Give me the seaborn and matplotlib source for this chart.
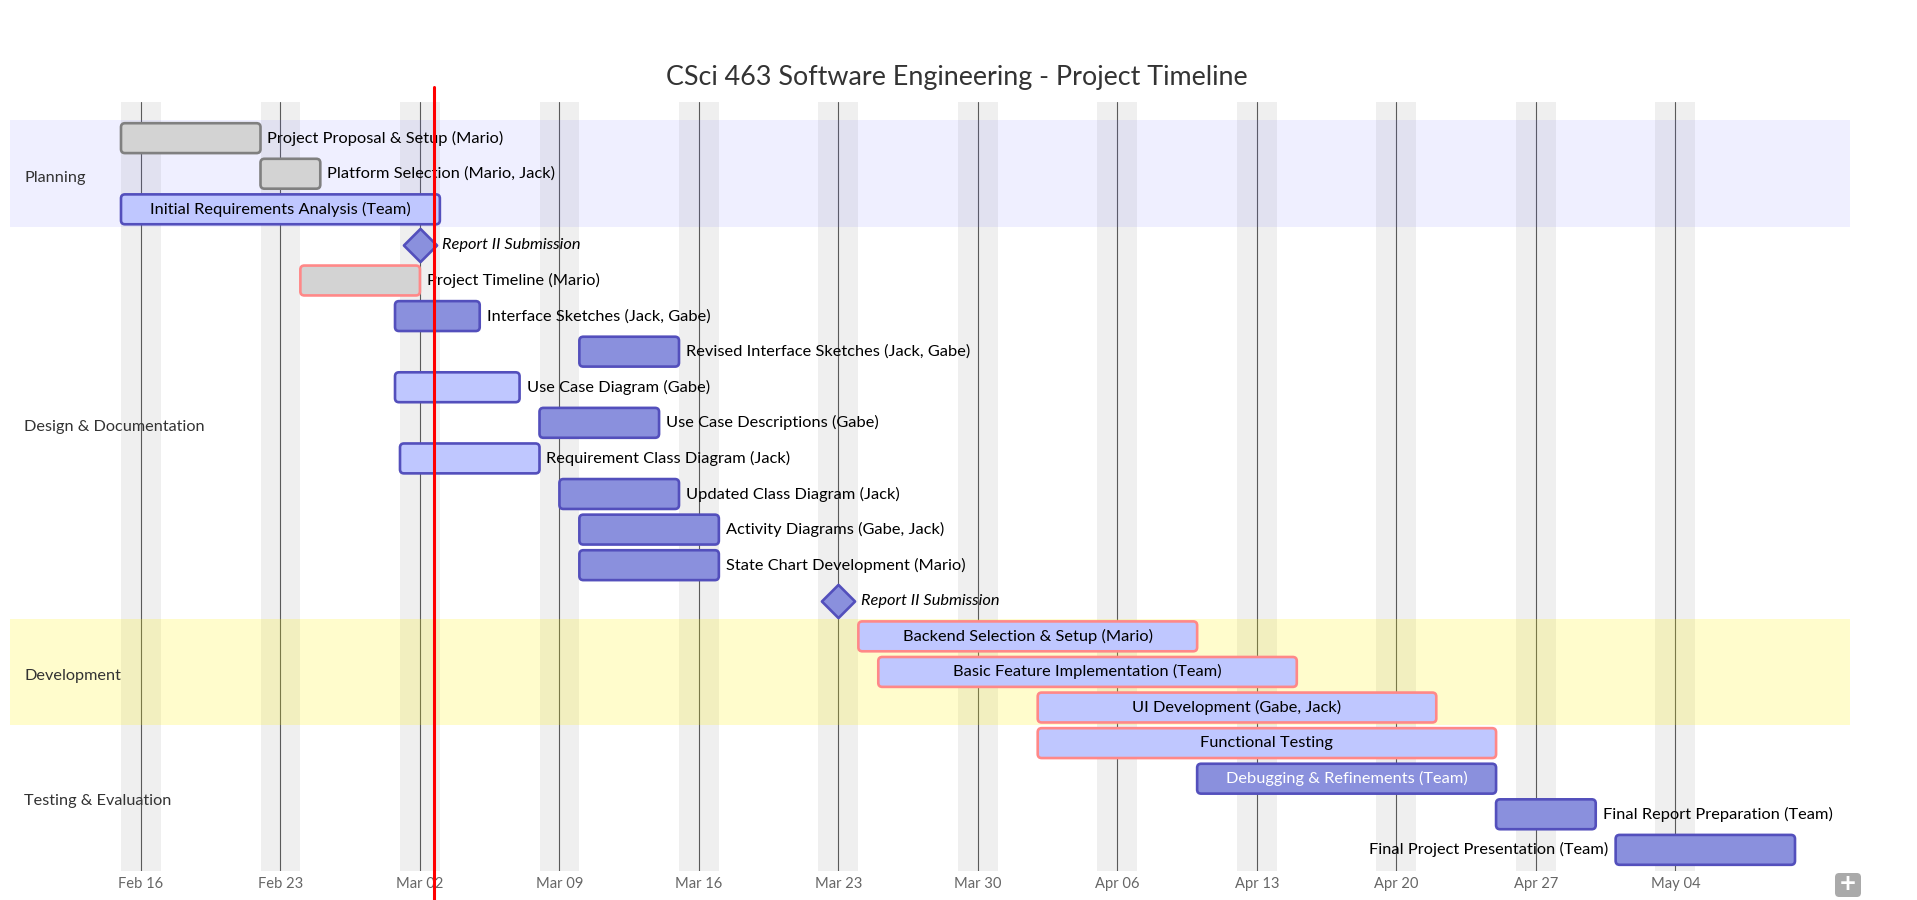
import matplotlib
matplotlib.use("Agg")
import matplotlib.pyplot as plt
import matplotlib.dates as mdates
from matplotlib.patches import FancyBboxPatch
import pandas as pd
import seaborn as sns

# ---- data ----
title = "CSci 463 Software Engineering - Project Timeline"

sections = (["Planning"] * 3 + ["Design & Documentation"] * 11
            + ["Development"] * 3 + ["Testing & Evaluation"] * 4)

tasks = [
    "Project Proposal & Setup (Mario)",
    "Platform Selection (Mario, Jack)",
    "Initial Requirements Analysis (Team)",
    "Report II Submission",
    "Project Timeline (Mario)",
    "Interface Sketches (Jack, Gabe)",
    "Revised Interface Sketches (Jack, Gabe)",
    "Use Case Diagram (Gabe)",
    "Use Case Descriptions (Gabe)",
    "Requirement Class Diagram (Jack)",
    "Updated Class Diagram (Jack)",
    "Activity Diagrams (Gabe, Jack)",
    "State Chart Development (Mario)",
    "Report II Submission",
    "Backend Selection & Setup (Mario)",
    "Basic Feature Implementation (Team)",
    "UI Development (Gabe, Jack)",
    "Functional Testing",
    "Debugging & Refinements (Team)",
    "Final Report Preparation (Team)",
    "Final Project Presentation (Team)",
]

starts = [
    "2025-02-15", "2025-02-22", "2025-02-15",
    "2025-03-02", "2025-02-24", "2025-02-28 18:00", "2025-03-10",
    "2025-02-28 18:00", "2025-03-08", "2025-03-01", "2025-03-09",
    "2025-03-10", "2025-03-10", "2025-03-23",
    "2025-03-24", "2025-03-25", "2025-04-02",
    "2025-04-02", "2025-04-10", "2025-04-25", "2025-05-01",
]

ends = [
    "2025-02-22", "2025-02-25", "2025-03-03",
    "2025-03-02", "2025-03-02", "2025-03-05", "2025-03-15",
    "2025-03-07", "2025-03-14", "2025-03-08", "2025-03-15",
    "2025-03-17", "2025-03-17", "2025-03-23",
    "2025-04-10", "2025-04-15", "2025-04-22",
    "2025-04-25", "2025-04-25", "2025-04-30", "2025-05-10",
]

status = [
    "done", "done", "active",
    "milestone", "donecrit", "task", "task",
    "active", "task", "active", "task",
    "task", "task", "milestone",
    "activecrit", "activecrit", "activecrit",
    "activecrit", "task", "task", "task",
]

today = "2025-03-02 17:20"

# ---- styles ----
face = {"done": "#d3d3d3", "donecrit": "#d3d3d3", "active": "#bfc7ff",
        "activecrit": "#bfc7ff", "task": "#8a90dd", "milestone": "#8a90dd"}
edge = {"done": "#808080", "donecrit": "#ff8888", "active": "#534fbc",
        "activecrit": "#ff8888", "task": "#534fbc", "milestone": "#534fbc"}
inner_text = {"done": "black", "donecrit": "black", "active": "black",
              "activecrit": "black", "task": "white"}
section_fill = {"Planning": ("#6666ff", 0.10), "Development": ("#fff400", 0.20)}
FS = 11.8

df = pd.DataFrame({"section": sections, "task": tasks,
                   "start": pd.to_datetime(starts, format="mixed"),
                   "end": pd.to_datetime(ends, format="mixed"),
                   "status": status})
df["row"] = range(len(df))
df["x0"] = mdates.date2num(df["start"])
df["x1"] = mdates.date2num(df["end"])

sns.set_theme(style="white")
plt.rcParams["font.family"] = ["Lato", "DejaVu Sans"]

W, H = 1917, 900
fig = plt.figure(figsize=(W / 100, H / 100), dpi=100)
ax = fig.add_axes([10 / W, 1 - 870.5 / H, 1840 / W, 769 / H])

xmin, xmax = df["x0"].min(), df["x1"].max()
ax.set_xlim(xmin - 5.57, xmax + 2.76)
ax.set_ylim(len(df) - 1 + 0.58, -1.03)
for s in ax.spines.values():
    s.set_visible(False)

# weekends
for sat in pd.date_range(df["start"].min(), df["end"].max(), freq="W-SAT", inclusive="left"):
    d = mdates.date2num(sat)
    ax.axvspan(d, d + 2, color="#efefef", lw=0, zorder=0)

# sections
for name, grp in df.groupby("section", sort=False):
    if name in section_fill:
        c, a = section_fill[name]
        ax.axhspan(grp["row"].min() - 0.5, grp["row"].max() + 0.5, color=c, alpha=a, lw=0, zorder=1)
    ax.text(14 / 1840, grp["row"].mean() + 0.12, name,
            transform=ax.get_yaxis_transform(), ha="left", va="center",
            fontsize=11.7, color="#333333", zorder=4)

# weekly ticks + grid
ticks = pd.date_range(df["start"].min(), df["end"].max(), freq="W-SUN")
ax.set_xticks(mdates.date2num(ticks))
ax.xaxis.set_major_formatter(mdates.DateFormatter("%b %d"))
ax.set_yticks([])
ax.tick_params(axis="x", length=0, pad=5, labelsize=10.6, labelcolor="#666666")
ax.grid(axis="x", color="#5a5a5a", lw=0.8, zorder=2)
ax.set_axisbelow(True)

# bars (rounded like the mermaid rects)
bars = df[df["status"] != "milestone"]
rects = ax.barh(bars["row"], bars["x1"] - bars["x0"], left=bars["x0"], height=0.84,
                color=[face[s] for s in bars["status"]],
                edgecolor=[edge[s] for s in bars["status"]], linewidth=1.9, zorder=3)
for p in rects:
    x, y = p.get_xy()
    ax.add_patch(FancyBboxPatch((x, y), p.get_width(), p.get_height(),
                                boxstyle="round,pad=0,rounding_size=0.2", mutation_aspect=0.56,
                                fc=p.get_facecolor(), ec=p.get_edgecolor(), lw=1.9, zorder=3))
    p.set_visible(False)

# milestones
ms = df[df["status"] == "milestone"]
sns.scatterplot(x=ms["x0"], y=ms["row"], marker="D", s=285, color=face["milestone"],
                edgecolor=edge["milestone"], linewidth=1.9, zorder=4, ax=ax, legend=False)
ax.set_xlabel("")
ax.set_ylabel("")
for _, r in ms.iterrows():
    ax.annotate(r["task"], (r["x0"], r["row"]), xytext=(16, 0), textcoords="offset points",
                ha="left", va="center", fontsize=FS, fontstyle="italic", color="black", zorder=4)

# bar labels: inside if they fit, else right (or left near the edge)
renderer = fig.canvas.get_renderer()
for _, r in bars.iterrows():
    t = ax.text((r["x0"] + r["x1"]) / 2, r["row"], r["task"], ha="center", va="center",
                fontsize=FS, color=inner_text[r["status"]], zorder=4)
    tw = t.get_window_extent(renderer).width
    bx0, bx1 = ax.transData.transform([(r["x0"], 0), (r["x1"], 0)])[:, 0]
    if tw > bx1 - bx0:
        t.remove()
        if bx1 + tw + 10 > W:
            ax.annotate(r["task"], (r["x0"], r["row"]), xytext=(-5, 0), textcoords="offset points",
                        ha="right", va="center", fontsize=FS, color="black", zorder=4)
        else:
            ax.annotate(r["task"], (r["x1"], r["row"]), xytext=(5, 0), textcoords="offset points",
                        ha="left", va="center", fontsize=FS, color="black", zorder=4)

# today marker
ax.axvline(mdates.date2num(pd.Timestamp(today)), ymin=-0.04, ymax=1.0187,
           color="red", lw=2.2, clip_on=False, zorder=6)

fig.text(957 / W, 1 - 77 / H, title, ha="center", va="center", fontsize=19.4, color="#333333")

# zoom button in the corner
fig.patches.append(FancyBboxPatch((1835 / W, 1 - 897 / H), 26 / W, 24 / H,
                                  boxstyle="round,pad=0,rounding_size=0.0022",
                                  mutation_aspect=W / H, transform=fig.transFigure,
                                  fc="#aaaaaa", ec="none"))
fig.text(1848 / W, 1 - 884 / H, "+", ha="center", va="center", fontsize=20,
         fontweight="bold", color="white")

fig.savefig("out.png", dpi=100)
